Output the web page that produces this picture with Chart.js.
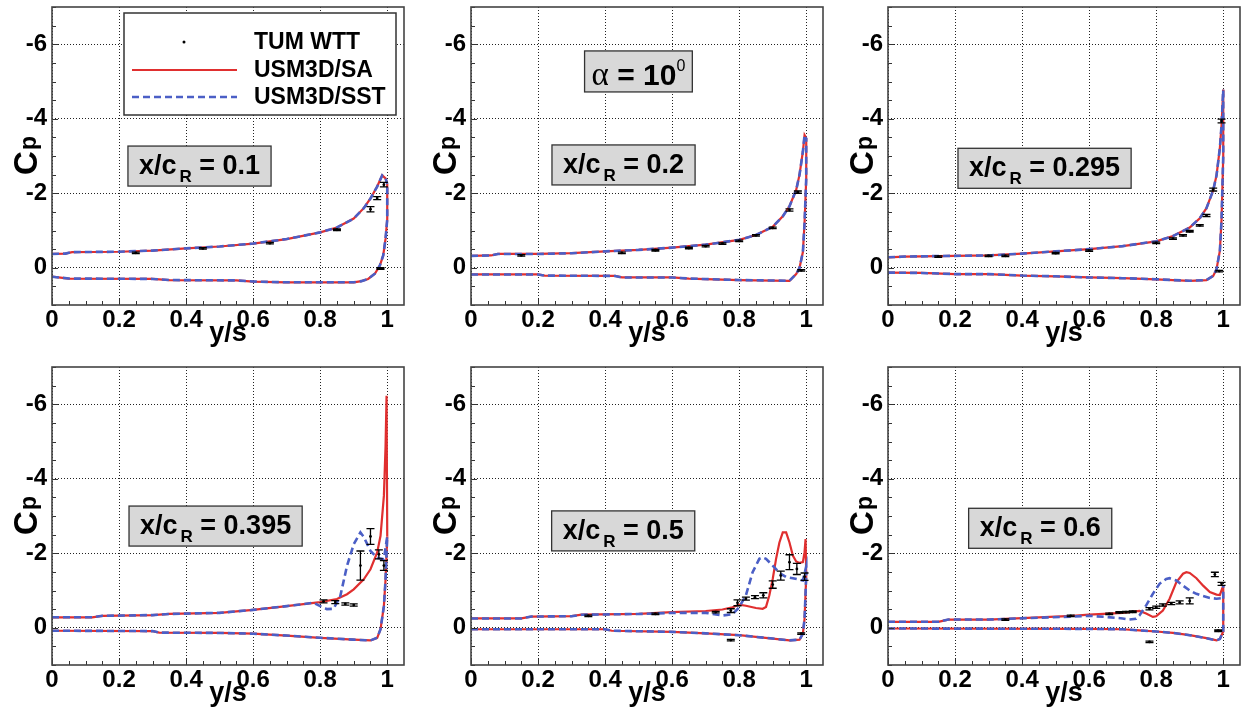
<!DOCTYPE html>
<html lang="en">
<head>
<meta charset="UTF-8">
<title>Spanwise Cp distributions, alpha = 10 deg</title>
<script src="https://cdn.jsdelivr.net/npm/chart.js@4.4.0/dist/chart.umd.min.js"></script>
<style>
  html, body { margin: 0; padding: 0; background: #fff; overflow: hidden; }
  #figure { position: relative; width: 1243px; height: 711px; }
  .panel { position: absolute; width: 408px; height: 350px; }
</style>
</head>
<body>
<div id="figure">
  <div class="panel" style="left:0;top:0"><canvas id="p1"></canvas></div>
  <div class="panel" style="left:419px;top:0"><canvas id="p2"></canvas></div>
  <div class="panel" style="left:836px;top:0"><canvas id="p3"></canvas></div>
  <div class="panel" style="left:0;top:360px"><canvas id="p4"></canvas></div>
  <div class="panel" style="left:419px;top:360px"><canvas id="p5"></canvas></div>
  <div class="panel" style="left:836px;top:360px"><canvas id="p6"></canvas></div>
</div>

<script>
// ---- data: [y/s, Cp] pairs ----
const seriesNames = ['TUM WTT', 'USM3D/SA', 'USM3D/SST'];
const stations = ['0.1', '0.2', '0.295', '0.395', '0.5', '0.6'];
const xTicks = [0, 0.2, 0.4, 0.6, 0.8, 1];
const yTicks = [-6, -4, -2, 0];

// x/cR = 0.1  (SA and SST lie on top of each other)
const sa1Up = [[0,-0.37],[0.04,-0.38],[0.06,-0.42],[0.2,-0.43],[0.3,-0.46],[0.4,-0.52],[0.5,-0.57],[0.6,-0.65],[0.7,-0.77],[0.8,-0.95],[0.85,-1.08],[0.9,-1.32],[0.93,-1.6],[0.95,-1.86],[0.97,-2.18],[0.985,-2.48],[0.995,-2.4],[1.0,-2.25]];
const lo1 = [[0,0.24],[0.05,0.29],[0.3,0.3],[0.35,0.33],[0.55,0.34],[0.6,0.37],[0.7,0.39],[0.9,0.39],[0.923,0.36],[0.943,0.3],[0.963,0.16],[0.978,-0.06],[0.988,-0.33],[0.995,-0.78],[1.0,-1.3],[1.0,-2.25]];
// [y/s, Cp, error]
const wtt1 = [[0.25,-0.4,0.02],[0.45,-0.52,0.02],[0.65,-0.66,0.02],[0.85,-1.02,0.02],[0.95,-1.57,0.07],[0.97,-1.87,0.04],[0.99,-2.23,0.06],[0.98,0.02,0.02]];

// x/cR = 0.2
const sa2Up = [[0,-0.32],[0.06,-0.33],[0.08,-0.37],[0.2,-0.37],[0.3,-0.39],[0.4,-0.44],[0.5,-0.48],[0.6,-0.54],[0.7,-0.62],[0.8,-0.75],[0.85,-0.88],[0.9,-1.1],[0.93,-1.38],[0.95,-1.65],[0.97,-2.09],[0.98,-2.5],[0.99,-3.12],[0.995,-3.56],[1.0,-3.48]];
const lo2 = [[0,0.18],[0.2,0.18],[0.22,0.21],[0.43,0.22],[0.45,0.26],[0.6,0.26],[0.65,0.29],[0.8,0.33],[0.95,0.35],[0.97,0.17],[0.98,0],[0.99,-0.42],[0.995,-1.2],[1.0,-2.4],[1.0,-3.48]];
const wtt2 = [[0.15,-0.33,0.02],[0.45,-0.4,0.02],[0.55,-0.47,0.02],[0.65,-0.53,0.02],[0.7,-0.58,0.02],[0.75,-0.65,0.02],[0.8,-0.72,0.02],[0.85,-0.87,0.02],[0.9,-1.07,0.02],[0.95,-1.55,0.03],[0.975,-2.03,0.03],[0.985,0.07,0.02]];

// x/cR = 0.295
const sa3Up = [[0,-0.28],[0.05,-0.3],[0.2,-0.32],[0.3,-0.33],[0.4,-0.38],[0.5,-0.44],[0.6,-0.5],[0.7,-0.58],[0.8,-0.71],[0.85,-0.85],[0.9,-1.08],[0.93,-1.33],[0.95,-1.6],[0.97,-2.08],[0.98,-2.48],[0.99,-3.22],[0.995,-3.83],[1.0,-4.78]];
const lo3 = [[0,0.13],[0.1,0.14],[0.2,0.17],[0.3,0.17],[0.4,0.21],[0.5,0.23],[0.6,0.26],[0.7,0.28],[0.8,0.31],[0.9,0.35],[0.95,0.33],[0.97,0.22],[0.98,0.04],[0.99,-0.46],[0.995,-1.3],[1.0,-3],[1.0,-4.78]];
const wtt3 = [[0.15,-0.3,0.02],[0.3,-0.32,0.02],[0.35,-0.32,0.02],[0.5,-0.39,0.02],[0.6,-0.46,0.02],[0.8,-0.67,0.02],[0.85,-0.78,0.02],[0.88,-0.87,0.02],[0.9,-0.98,0.02],[0.93,-1.14,0.02],[0.95,-1.4,0.03],[0.97,-2.1,0.04],[0.995,-3.94,0.05],[0.988,0.09,0.02]];

// x/cR = 0.395
const sa4Up = [[0,-0.28],[0.12,-0.28],[0.15,-0.32],[0.3,-0.34],[0.35,-0.37],[0.5,-0.4],[0.6,-0.48],[0.7,-0.58],[0.8,-0.69],[0.85,-0.77],[0.88,-0.9],[0.9,-1.03],[0.93,-1.3],[0.95,-1.57],[0.97,-2.02],[0.98,-2.47],[0.99,-3.54],[0.995,-4.88],[0.998,-6.23],[1.0,-2.45]];
const sst4Up = [[0,-0.28],[0.12,-0.28],[0.15,-0.32],[0.3,-0.34],[0.35,-0.37],[0.5,-0.4],[0.6,-0.48],[0.7,-0.58],[0.78,-0.67],[0.8,-0.58],[0.82,-0.5],[0.84,-0.51],[0.86,-0.85],[0.88,-1.66],[0.9,-2.24],[0.92,-2.56],[0.93,-2.44],[0.95,-2.06],[0.97,-1.88],[0.99,-1.84],[1.0,-2.45]];
const lo4 = [[0,0.08],[0.3,0.09],[0.32,0.13],[0.5,0.14],[0.6,0.16],[0.7,0.21],[0.8,0.27],[0.9,0.32],[0.95,0.34],[0.97,0.27],[0.98,0.04],[0.99,-0.58],[0.995,-1.3],[1.0,-2.45]];
const wtt4 = [[0.81,-0.71,0.04],[0.845,-0.69,0.04],[0.875,-0.64,0.03],[0.9,-0.61,0.03],[0.92,-1.67,0.39],[0.95,-2.45,0.21],[0.975,-1.97,0.12],[0.99,-1.67,0.13]];

// x/cR = 0.5
const sa5Up = [[0,-0.25],[0.15,-0.25],[0.18,-0.3],[0.3,-0.31],[0.33,-0.35],[0.5,-0.37],[0.6,-0.42],[0.7,-0.45],[0.75,-0.49],[0.78,-0.55],[0.8,-0.62],[0.82,-0.59],[0.85,-0.53],[0.87,-0.51],[0.88,-0.56],[0.89,-0.87],[0.9,-1.31],[0.91,-1.85],[0.92,-2.29],[0.93,-2.56],[0.94,-2.56],[0.95,-2.29],[0.96,-1.94],[0.97,-1.78],[0.98,-1.74],[0.99,-1.76],[0.995,-2.03],[0.998,-2.38],[1.0,-1.4]];
const sst5Up = [[0,-0.25],[0.15,-0.25],[0.18,-0.3],[0.3,-0.31],[0.33,-0.35],[0.5,-0.37],[0.6,-0.4],[0.7,-0.4],[0.75,-0.33],[0.78,-0.36],[0.8,-0.55],[0.82,-0.87],[0.84,-1.49],[0.86,-1.85],[0.87,-1.89],[0.88,-1.85],[0.9,-1.67],[0.92,-1.47],[0.94,-1.36],[0.96,-1.33],[0.98,-1.29],[0.99,-1.27],[1.0,-1.65],[1.0,-1.4]];
const lo5 = [[0,0.04],[0.4,0.04],[0.42,0.08],[0.6,0.11],[0.7,0.15],[0.8,0.2],[0.9,0.29],[0.95,0.34],[0.98,0.32],[0.99,0.16],[0.995,-0.24],[1.0,-1.4]];
const wtt5 = [[0.35,-0.32,0.02],[0.55,-0.37,0.02],[0.73,-0.42,0.02],[0.775,-0.46,0.05],[0.795,-0.67,0.08],[0.82,-0.78,0.04],[0.847,-0.82,0.04],[0.872,-0.87,0.07],[0.9,-1.16,0.1],[0.924,-1.4,0.12],[0.95,-1.76,0.2],[0.972,-1.58,0.15],[0.995,-1.37,0.1],[0.775,0.33,0.02],[0.985,0.16,0.02]];

// x/cR = 0.6
const sa6Up = [[0,-0.16],[0.15,-0.16],[0.18,-0.22],[0.3,-0.22],[0.45,-0.28],[0.55,-0.32],[0.6,-0.35],[0.7,-0.4],[0.75,-0.45],[0.77,-0.38],[0.79,-0.29],[0.8,-0.31],[0.82,-0.46],[0.84,-0.78],[0.86,-1.22],[0.88,-1.45],[0.89,-1.49],[0.9,-1.47],[0.92,-1.33],[0.94,-1.13],[0.96,-0.96],[0.98,-0.89],[0.99,-0.88],[1.0,-1.13]];
const sst6Up = [[0,-0.16],[0.15,-0.16],[0.18,-0.22],[0.3,-0.22],[0.45,-0.27],[0.55,-0.3],[0.6,-0.32],[0.65,-0.29],[0.7,-0.25],[0.72,-0.22],[0.74,-0.24],[0.75,-0.33],[0.77,-0.6],[0.79,-0.91],[0.81,-1.18],[0.83,-1.31],[0.84,-1.33],[0.86,-1.27],[0.88,-1.13],[0.9,-1.0],[0.92,-0.91],[0.94,-0.85],[0.96,-0.8],[0.98,-0.78],[1.0,-0.8]];
const lo6 = [[0,0.02],[0.6,0.03],[0.7,0.04],[0.75,0.07],[0.8,0.1],[0.85,0.14],[0.9,0.2],[0.95,0.28],[0.98,0.34],[0.99,0.3],[1.0,0.1],[1.0,-1.13]];
const wtt6 = [[0.35,-0.22,0.02],[0.545,-0.32,0.02],[0.66,-0.37,0.02],[0.69,-0.41,0.02],[0.71,-0.42,0.02],[0.73,-0.43,0.02],[0.78,-0.51,0.03],[0.8,-0.55,0.03],[0.82,-0.61,0.03],[0.845,-0.65,0.03],[0.87,-0.68,0.04],[0.9,-0.72,0.08],[0.975,-1.43,0.06],[0.995,-1.18,0.04],[0.78,0.38,0.02],[0.985,0.08,0.02]];

// ---- panels (label box centre in data units) ----
const panels = [
  { id: 'p1', sa: [sa1Up, lo1], sst: [sa1Up, lo1], wtt: wtt1, box: [0.44, -2.73], legend: true },
  { id: 'p2', sa: [sa2Up, lo2], sst: [sa2Up, lo2], wtt: wtt2, box: [0.455, -2.76], alpha: [0.4995, -5.27] },
  { id: 'p3', sa: [sa3Up, lo3], sst: [sa3Up, lo3], wtt: wtt3, box: [0.467, -2.67] },
  { id: 'p4', sa: [sa4Up, lo4], sst: [sst4Up, lo4], wtt: wtt4, box: [0.488, -2.73] },
  { id: 'p5', sa: [sa5Up, lo5], sst: [sst5Up, lo5], wtt: wtt5, box: [0.454, -2.6] },
  { id: 'p6', sa: [sa6Up, lo6], sst: [sst6Up, lo6], wtt: wtt6, box: [0.454, -2.67] }
];

const RED = '#e02f2f';
const BLUE = '#4b5fc6';
const SANS = '"Liberation Sans", Arial, sans-serif';

Chart.defaults.font.family = SANS;
Chart.defaults.color = '#000';

function xy(arr) {
  return arr.map(p => ({ x: p[0], y: p[1] }));
}

function buildDatasets(p) {
  const ds = [{
    label: seriesNames[0], data: xy(p.wtt), errors: p.wtt.map(q => q[2]),
    showLine: false, pointRadius: 1.4, pointBackgroundColor: '#000', pointBorderWidth: 0, order: 0
  }];
  p.sst.forEach(s => ds.push({
    label: seriesNames[2], data: xy(s), showLine: true, borderColor: BLUE, borderWidth: 2.6,
    borderDash: [7, 4], pointRadius: 0, order: 1
  }));
  p.sa.forEach(s => ds.push({
    label: seriesNames[1], data: xy(s), showLine: true, borderColor: RED, borderWidth: 2.2,
    pointRadius: 0, order: 2
  }));
  return ds;
}

function stationBox(ctx, cx, cy, value) {
  const big = 'bold 27px ' + SANS, small = 'bold 17px ' + SANS;
  ctx.font = big;
  const w1 = ctx.measureText('x/c').width;
  const w3 = ctx.measureText(' = ' + value).width;
  ctx.font = small;
  const w2 = ctx.measureText('R').width;
  const gap = 3;
  const tw = w1 + gap + w2 + w3;
  const bw = tw + 22, bh = 40;
  ctx.fillStyle = '#d8d8d8';
  ctx.fillRect(cx - bw / 2, cy - bh / 2, bw, bh);
  ctx.strokeStyle = '#333';
  ctx.lineWidth = 1.3;
  ctx.strokeRect(cx - bw / 2, cy - bh / 2, bw, bh);
  ctx.fillStyle = '#000';
  ctx.textAlign = 'left';
  ctx.textBaseline = 'alphabetic';
  let tx = cx - tw / 2;
  const base = cy + 8;
  ctx.font = big; ctx.fillText('x/c', tx, base); tx += w1 + gap;
  ctx.font = small; ctx.fillText('R', tx, base + 8); tx += w2;
  ctx.font = big; ctx.fillText(' = ' + value, tx, base);
}

function alphaBox(ctx, cx, cy) {
  const greek = '33px "Liberation Serif", serif', big = 'bold 30px ' + SANS, sup = '16px ' + SANS;
  ctx.font = greek; const wa = ctx.measureText('\u03b1').width;
  ctx.font = big; const wb = ctx.measureText(' = 10').width;
  ctx.font = sup; const wc = ctx.measureText('0').width;
  const tw = wa + wb + wc;
  const bw = tw + 14, bh = 41;
  ctx.fillStyle = '#d8d8d8';
  ctx.fillRect(cx - bw / 2, cy - bh / 2, bw, bh);
  ctx.strokeStyle = '#333';
  ctx.lineWidth = 1.3;
  ctx.strokeRect(cx - bw / 2, cy - bh / 2, bw, bh);
  ctx.fillStyle = '#000';
  ctx.textAlign = 'left';
  ctx.textBaseline = 'alphabetic';
  let tx = cx - tw / 2;
  const base = cy + 14;
  ctx.font = greek; ctx.fillText('\u03b1', tx, base); tx += wa;
  ctx.font = big; ctx.fillText(' = 10', tx, base); tx += wb;
  ctx.font = sup; ctx.fillText('0', tx, base - 14);
}

function drawLegend(ctx, a) {
  const left = a.left + 72, top = a.top + 6, w = 272, h = 102;
  ctx.fillStyle = '#fff';
  ctx.fillRect(left, top, w, h);
  ctx.strokeStyle = '#333';
  ctx.lineWidth = 1.5;
  ctx.strokeRect(left, top, w, h);
  const rows = [top + 29, top + 57, top + 84];
  // symbols
  ctx.fillStyle = '#000';
  ctx.beginPath(); ctx.arc(left + 60, rows[0], 1.5, 0, Math.PI * 2); ctx.fill();
  ctx.lineWidth = 2.2; ctx.strokeStyle = RED;
  ctx.beginPath(); ctx.moveTo(left + 8, rows[1]); ctx.lineTo(left + 113, rows[1]); ctx.stroke();
  ctx.lineWidth = 2.6; ctx.strokeStyle = BLUE; ctx.setLineDash([7, 4]);
  ctx.beginPath(); ctx.moveTo(left + 8, rows[2]); ctx.lineTo(left + 113, rows[2]); ctx.stroke();
  ctx.setLineDash([]);
  ctx.fillStyle = '#000';
  ctx.font = 'bold 23px ' + SANS;
  ctx.textAlign = 'left';
  ctx.textBaseline = 'middle';
  seriesNames.forEach((n, i) => ctx.fillText(n, left + 130, rows[i] + 1));
}

const decor = {
  id: 'decor',
  afterDatasetsDraw(chart) {
    const { ctx, scales: { x, y } } = chart;
    chart.data.datasets.forEach(ds => {
      if (!ds.errors) return;
      ctx.save();
      ctx.strokeStyle = '#000';
      ctx.lineWidth = 1.3;
      ds.data.forEach((pt, k) => {
        const px = x.getPixelForValue(pt.x);
        const y1 = y.getPixelForValue(pt.y - ds.errors[k]);
        const y2 = y.getPixelForValue(pt.y + ds.errors[k]);
        ctx.beginPath();
        ctx.moveTo(px, y1); ctx.lineTo(px, y2);
        ctx.moveTo(px - 4, y1); ctx.lineTo(px + 4, y1);
        ctx.moveTo(px - 4, y2); ctx.lineTo(px + 4, y2);
        ctx.stroke();
      });
      ctx.restore();
    });
  },
  afterDraw(chart, args, opts) {
    const { ctx, chartArea: a, scales: { x, y } } = chart;
    const p = opts.panel;
    ctx.save();
    // inward tick marks
    ctx.strokeStyle = '#333';
    ctx.lineWidth = 1;
    ctx.beginPath();
    for (let i = 0; i <= 20; i++) {
      const px = Math.round(x.getPixelForValue(i * 0.05)) + 0.5;
      const len = i % 4 === 0 ? 6 : 4;
      ctx.moveTo(px, a.bottom); ctx.lineTo(px, a.bottom - len);
    }
    for (let k = -14; k <= 2; k++) {
      const py = Math.round(y.getPixelForValue(k * 0.5)) + 0.5;
      const len = k % 4 === 0 ? 6 : 4;
      ctx.moveTo(a.left, py); ctx.lineTo(a.left + len, py);
    }
    ctx.stroke();
    // frame
    ctx.strokeStyle = '#444';
    ctx.lineWidth = 1.6;
    ctx.strokeRect(a.left, a.top, a.right - a.left, a.bottom - a.top);

    // Cp axis title (C with subscript p)
    ctx.translate(0, (a.top + a.bottom) / 2);
    ctx.rotate(-Math.PI / 2);
    ctx.fillStyle = '#000';
    ctx.textAlign = 'left';
    ctx.textBaseline = 'alphabetic';
    ctx.font = 'bold 33px ' + SANS;
    const wC = ctx.measureText('C').width;
    ctx.font = 'bold 23px ' + SANS;
    const wP = ctx.measureText('p').width;
    const start = -(wC + wP) / 2;
    ctx.font = 'bold 33px ' + SANS;
    ctx.fillText('C', start, 37);
    ctx.font = 'bold 23px ' + SANS;
    ctx.fillText('p', start + wC + 1, 36);
    ctx.restore();

    ctx.save();
    stationBox(ctx, x.getPixelForValue(p.box[0]), y.getPixelForValue(p.box[1]), p.station);
    if (p.alpha) alphaBox(ctx, x.getPixelForValue(p.alpha[0]), y.getPixelForValue(p.alpha[1]));
    if (p.legend) drawLegend(ctx, a);
    ctx.restore();
  }
};

const tickFont = { size: 24, weight: 'bold' };

panels.forEach((p, i) => {
  p.station = stations[i];
  new Chart(document.getElementById(p.id), {
    type: 'scatter',
    data: { datasets: buildDatasets(p) },
    options: {
      responsive: true,
      maintainAspectRatio: false,
      animation: false,
      events: [],
      layout: { padding: { top: 7, right: 2, left: 0, bottom: 0 } },
      plugins: {
        legend: { display: false },
        tooltip: { enabled: false },
        decor: { panel: p }
      },
      scales: {
        x: {
          type: 'linear', min: 0, max: 1.05,
          afterBuildTicks: s => { s.ticks = xTicks.map(v => ({ value: v })); },
          afterFit: s => { s.height = 45; s.paddingLeft = 0; s.paddingRight = 0; },
          ticks: { font: tickFont, color: '#000', padding: 1, maxRotation: 0, autoSkip: false, callback: v => String(v) },
          grid: { color: '#222', lineWidth: 1, drawTicks: false },
          border: { display: false, dash: [1, 2] },
          title: { display: true, text: 'y/s', font: { size: 27, weight: 'bold' }, color: '#000', padding: 0 }
        },
        y: {
          type: 'linear', reverse: true, min: -7, max: 1,
          afterBuildTicks: s => { s.ticks = yTicks.map(v => ({ value: v })); },
          afterFit: s => { s.width = 52; s.paddingTop = 0; s.paddingBottom = 0; },
          ticks: { font: tickFont, color: '#000', padding: 5, callback: v => String(v) },
          grid: { color: '#222', lineWidth: 1, drawTicks: false },
          border: { display: false, dash: [1, 2] }
        }
      }
    },
    plugins: [decor]
  });
});
</script>
</body>
</html>
